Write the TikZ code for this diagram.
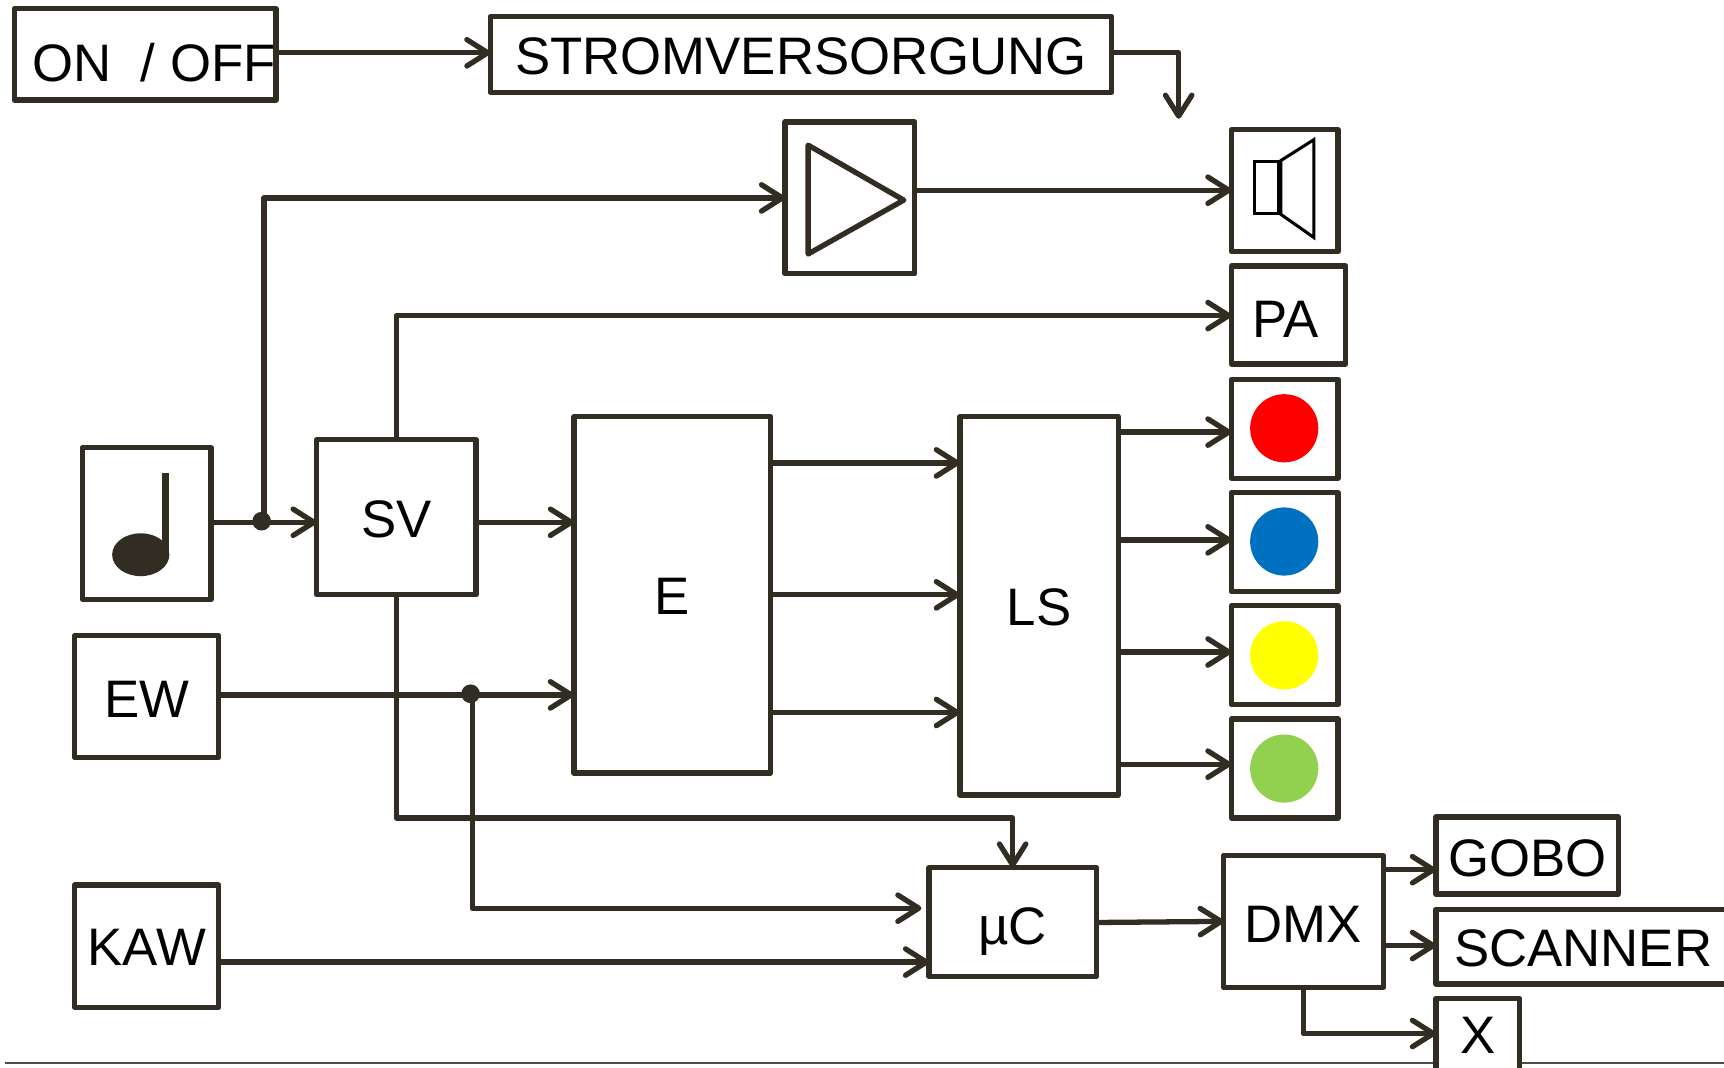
\documentclass[tikz,border=0pt]{standalone}
\usepackage{fontspec}
\setmainfont{Liberation Sans}
\usetikzlibrary{arrows.meta}
\definecolor{ink}{HTML}{312D22}
\definecolor{lampred}{HTML}{FF0000}
\definecolor{lampblue}{HTML}{0070C0}
\definecolor{lampyellow}{HTML}{FFFF00}
\definecolor{lampgreen}{HTML}{92D050}
\newcommand\T[3]{\makebox[0pt]{\hspace*{#1pt}\smash{\raisebox{\dimexpr-8.6pt-#2pt/2\relax}{#3}}}}
\tikzset{
  x=0.5pt,y=-0.5pt,
  bw/.style={minimum width=#1*0.5pt},
  bh/.style={minimum height=#1*0.5pt},
  box/.style={draw=ink,fill=white,line width=2.4pt,line join=round,inner sep=0pt,outer sep=0pt,rectangle,font=\fontsize{24}{24}\selectfont},
  link/.style={draw=ink,line width=2.4pt,line join=round,-{Straight Barb[length=9.5pt,width=12pt,line width=2.4pt,line cap=round,round]}},
  plain/.style={draw=ink,line width=2.4pt},
  dotnode/.style={circle,fill=ink,inner sep=0pt,outer sep=0pt,minimum size=8.5pt},
  lamp/.style={circle,inner sep=0pt,outer sep=0pt,minimum size=31pt},
}
\begin{document}
\begin{tikzpicture}
\useasboundingbox (0,0) rectangle (1568,971);
\clip (0,0) rectangle (1568,971);
\fill[white] (0,0) rectangle (1568,971);
\coordinate (rulea) at (5,967);
\coordinate (ruleb) at (1568,967);
\draw[line width=0.8pt,draw=ink!85] (rulea) -- (ruleb);

\node[box,bw=238,bh=83] (on) at (132,49.5) {\T{8}{7.5}{ON\ \ / OFF}};
\node[box,bw=565,bh=69] (st) at (728.5,49.5) {\T{0}{1.5}{STROMVERSORGUNG}};
\node[box,bw=118,bh=138] (amp) at (773,180) {};
\node[box,bw=97,bh=111] (spk) at (1168.5,173.5) {};
\node[box,bw=104,bh=89] (pa) at (1172,286.5) {\T{-3}{3.5}{PA}};
\node[box,bw=97,bh=90] (rb) at (1168.5,390) {};
\node[box,bw=97,bh=90] (bb) at (1168.5,493) {};
\node[box,bw=97,bh=90] (yb) at (1168.5,596) {};
\node[box,bw=97,bh=90] (gb) at (1168.5,699) {};
\node[lamp,fill=lampred] (rl) at (1168,389.5) {};
\node[lamp,fill=lampblue] (bl) at (1168,492.5) {};
\node[lamp,fill=lampyellow] (yl) at (1168,596) {};
\node[lamp,fill=lampgreen] (gl) at (1168,699) {};
\node[box,bw=117,bh=138] (note) at (133.5,476) {};
\node[box,bw=145,bh=141] (sv) at (360.5,470.5) {\T{0}{1.5}{SV}};
\node[box,bw=179,bh=324] (e) at (611.5,541) {\T{0}{1}{E}};
\node[box,bw=144,bh=344] (ls) at (945,551) {\T{0}{1}{LS}};
\node[box,bw=131,bh=111] (ew) at (133.5,633.5) {\T{0}{1.5}{EW}};
\node[box,bw=131,bh=111] (kaw) at (133.5,860.5) {\T{0}{0.5}{KAW}};
\node[box,bw=152,bh=99] (uc) at (921,838.5) {\T{0}{3.5}{µC}};
\node[box,bw=145,bh=120] (dmx) at (1185.5,838) {\T{0}{2}{DMX}};
\node[box,bw=166,bh=70] (gobo) at (1389,778) {\T{0}{2}{GOBO}};
\node[box,bw=300,bh=68] (scan) at (1456,861) {\T{-16}{1}{SCANNER}};
\node[box,bw=76,bh=80] (xb) at (1344,948) {\T{0}{-7}{X}};

% amplifier symbol
\coordinate (tria) at (735,132);
\coordinate (trib) at (822,182);
\coordinate (tric) at (735,231);
\draw[draw=ink,line width=2.4pt,line join=round] (tria) -- (trib) -- (tric) -- cycle;
% loudspeaker symbol
\draw[black,line width=1.4pt] (1141,146.5) rectangle (1163,194);
\draw[black,line width=1.4pt,line join=miter] (1165,146) -- (1195,127) -- (1195,216) -- (1165,195) -- cycle;
% note symbol
\fill[ink] (128,504.5) ellipse [x radius=26,y radius=19.5];
\fill[ink] (147.5,430) rectangle (154,505);

\node[dotnode] (j1) at (238,474) {};
\node[dotnode] (j2) at (428,631) {};
\coordinate (pw) at (1072,108);

\draw[link] (on.east |- 0,48) -- (st.west |- 0,48);
\draw[link] (st.east |- 0,48) -| (pw);
\draw[link] (amp.east |- 0,173) -- (spk.west |- 0,173);
\draw[plain] (note.east |- 0,475) -- (j1.center |- 0,475);
\draw[link] (j1.center |- 0,475) -- (sv.west |- 0,475);
\draw[link] (j1.center) ++(2,0) |- (amp.west |- 0,180);
\draw[link] (sv.north) |- (pa.west |- 0,287);
\draw[link] (sv.east |- 0,475) -- (e.west |- 0,475);
\draw[plain] (ew.east |- 0,632) -- (j2.center |- 0,632);
\draw[link] (j2.center |- 0,632) -- (e.west |- 0,632);
\draw[link] (j2.center) ++(2,0) |- (838,826);
\draw[link] (sv.south) |- (uc.north |- 0,744) -- (uc.north);
\draw[link] (kaw.east |- 0,875) -- (uc.west |- 0,875);
\draw[link] (uc.east |- 0,839) -- (dmx.west |- 0,838);
\draw[link] (e.east |- 0,421) -- (ls.west |- 0,421);
\draw[link] (e.east |- 0,541) -- (ls.west |- 0,541);
\draw[link] (e.east |- 0,648) -- (ls.west |- 0,648);
\draw[link] (ls.east |- 0,393) -- (rb.west |- 0,393);
\draw[link] (ls.east |- 0,491) -- (bb.west |- 0,491);
\draw[link] (ls.east |- 0,593) -- (yb.west |- 0,593);
\draw[link] (ls.east |- 0,695) -- (gb.west |- 0,695);
\draw[link] (dmx.east |- 0,791) -- (gobo.west |- 0,791);
\draw[link] (dmx.east |- 0,860) -- (scan.west |- 0,860);
\draw[link] (dmx.south) |- (xb.west |- 0,940);
\end{tikzpicture}
\end{document}
